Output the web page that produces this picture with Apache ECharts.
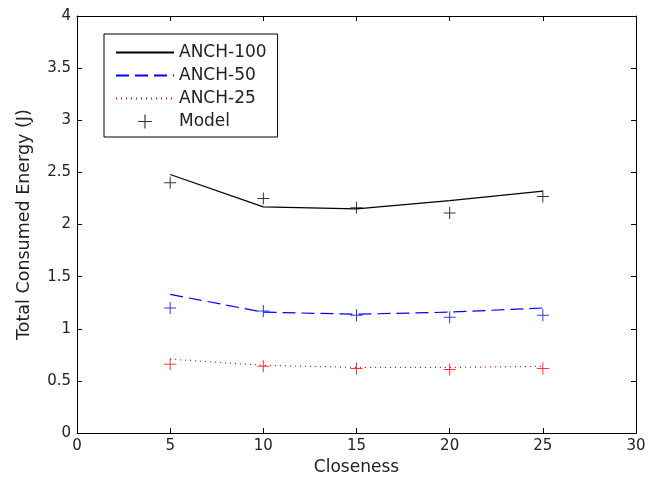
<!DOCTYPE html>
<html>
<head>
<meta charset="utf-8">
<script src="https://cdn.jsdelivr.net/npm/echarts@6/dist/echarts.min.js"></script>
<style>html,body{margin:0;padding:0;background:#fff}#c{width:658px;height:481px}</style>
</head>
<body>
<div id="c"></div>
<script>
const closeness = [5, 10, 15, 20, 25];
const anch100 = [2.48, 2.17, 2.15, 2.23, 2.32];
const anch50 = [1.33, 1.16, 1.14, 1.16, 1.20];
const anch25 = [0.71, 0.65, 0.63, 0.63, 0.64];
const model100 = [2.40, 2.25, 2.16, 2.11, 2.27];
const model50 = [1.20, 1.17, 1.13, 1.11, 1.13];
const model25 = [0.66, 0.64, 0.62, 0.61, 0.62];
const xTicks = [0, 5, 10, 15, 20, 25, 30];
const yTicks = [0, 0.5, 1, 1.5, 2, 2.5, 3, 3.5, 4];

const pair = arr => closeness.map((x, i) => [x, arr[i]]);
const FONT = '"DejaVu Sans", sans-serif';
const TXT = '#222';
const plus = 'path://M5.5,0h1v12h-1zM0,5.5h12v1h-12z';

const chart = echarts.init(document.getElementById('c'));
const axisCommon = {
  axisLine: {show: true, onZero: false, lineStyle: {color: '#000', width: 1}},
  axisTick: {show: true, inside: true, length: 5, lineStyle: {color: '#000'}},
  splitLine: {show: false}
};
chart.setOption({
  animation: false,
  backgroundColor: '#fff',
  grid: {left: 77, right: 22, top: 16, bottom: 44, containLabel: false},
  xAxis: [
    Object.assign({
      type: 'value', min: xTicks[0], max: xTicks[xTicks.length - 1], interval: 5,
      name: 'Closeness', nameLocation: 'middle', nameGap: 21,
      nameTextStyle: {fontFamily: FONT, fontSize: 17, color: TXT},
      axisLabel: {fontFamily: FONT, fontSize: 15, color: TXT, margin: 6}
    }, axisCommon),
    Object.assign({
      type: 'value', position: 'top', min: 0, max: 30, interval: 5,
      axisLabel: {show: false}
    }, axisCommon)
  ],
  yAxis: [
    Object.assign({
      type: 'value', min: yTicks[0], max: yTicks[yTicks.length - 1], interval: 0.5,
      name: 'Total Consumed Energy (J)', nameLocation: 'middle', nameGap: 44,
      nameTextStyle: {fontFamily: FONT, fontSize: 17.5, color: TXT},
      axisLabel: {fontFamily: FONT, fontSize: 15, color: TXT, margin: 6}
    }, axisCommon),
    Object.assign({
      type: 'value', position: 'right', min: 0, max: 4, interval: 0.5,
      axisLabel: {show: false}
    }, axisCommon)
  ],
  legend: {
    orient: 'vertical', left: 104, top: 34,
    data: [
      {name: 'ANCH-100', itemStyle: {opacity: 0}},
      {name: 'ANCH-50', itemStyle: {opacity: 0}},
      {name: 'ANCH-25', itemStyle: {opacity: 0}},
      {name: 'Model'}
    ],
    itemWidth: 58, itemHeight: 14, itemGap: 6,
    padding: [10, 11, 7, 11],
    borderColor: '#000', borderWidth: 1, backgroundColor: '#fff',
    textStyle: {fontFamily: FONT, fontSize: 17, color: TXT},
    selectedMode: false
  },
  series: [
    {name: 'ANCH-100', type: 'line', data: pair(anch100), symbol: 'none',
      lineStyle: {color: '#000', width: 1.2, type: 'solid'}, itemStyle: {color: '#000'}},
    {name: 'ANCH-50', type: 'line', data: pair(anch50), symbol: 'none',
      lineStyle: {color: '#0000ff', width: 1.2, type: [13, 6]}, itemStyle: {color: '#0000ff'}},
    {name: 'ANCH-25', type: 'line', data: pair(anch25), symbol: 'none',
      lineStyle: {color: '#ff0000', width: 1.2, type: [1, 4]}, itemStyle: {color: '#ff0000'}},
    {name: 'Model', type: 'scatter', data: pair(model100), symbol: plus, symbolSize: 12,
      itemStyle: {color: '#000'}},
    {name: 'Model50', type: 'scatter', data: pair(model50), symbol: plus, symbolSize: 12,
      itemStyle: {color: '#0000ff'}},
    {name: 'Model25', type: 'scatter', data: pair(model25), symbol: plus, symbolSize: 12,
      itemStyle: {color: '#ff0000'}}
  ]
});
</script>
</body>
</html>
